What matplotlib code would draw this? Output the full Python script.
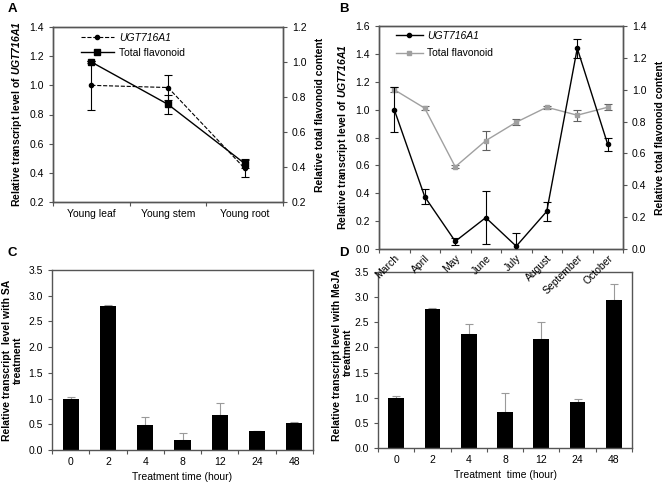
import numpy as np
import matplotlib
matplotlib.use("Agg")
import matplotlib.pyplot as plt
from matplotlib.lines import Line2D

plt.rcParams['font.family'] = ['Liberation Sans', 'DejaVu Sans']
plt.rcParams['font.size'] = 7.5
plt.rcParams['mathtext.fontset'] = 'custom'
plt.rcParams['mathtext.rm'] = 'Liberation Sans'
plt.rcParams['mathtext.it'] = 'Liberation Sans:italic'
plt.rcParams['mathtext.bf'] = 'Liberation Sans:bold'
plt.rcParams['mathtext.bfit'] = 'Liberation Sans:italic:bold'

# ---- Panel A data ----
tissues = ["Young leaf", "Young stem", "Young root"]
ugt_tissue = [1.0, 0.985, 0.43]
ugt_tissue_err = [0.17, 0.085, 0.06]
flav_tissue = [1.0, 0.758, 0.42]
flav_tissue_err = [0.008, 0.054, 0.025]

# ---- Panel B data ----
months = ["March", "April", "May", "June", "July", "August", "September", "October"]
ugt_month = [1.0, 0.375, 0.055, 0.225, 0.02, 0.27, 1.44, 0.75]
ugt_month_err = [0.16, 0.055, 0.025, 0.19, 0.095, 0.07, 0.07, 0.05]
flav_month = [1.0, 0.884, 0.516, 0.68, 0.796, 0.89, 0.84, 0.89]
flav_month_err = [0.015, 0.012, 0.01, 0.06, 0.02, 0.008, 0.035, 0.018]

# ---- Panels C/D data ----
hours = ["0", "2", "4", "8", "12", "24", "48"]
sa_vals = [1.0, 2.8, 0.48, 0.2, 0.69, 0.36, 0.52]
sa_err = [0.04, 0.01, 0.16, 0.13, 0.23, 0.005, 0.03]
meja_vals = [1.0, 2.77, 2.27, 0.72, 2.17, 0.91, 2.94]
meja_err = [0.03, 0.01, 0.2, 0.37, 0.33, 0.06, 0.33]

W, H = 666, 488
fig = plt.figure(figsize=(W / 100, H / 100), dpi=100)

def box(l, t, r, b):
    return [l / W, (H - b) / H, (r - l) / W, (b - t) / H]

spine_col = "#555555"

def style(ax):
    for s in ax.spines.values():
        s.set_color(spine_col)
        s.set_linewidth(1.0)
    ax.tick_params(axis='both', which='both', direction='out', color=spine_col,
                   labelsize=7.5, length=3, width=0.8)

def cat_ticks(ax, n):
    ax.set_xlim(-0.5, n - 0.5)
    ax.set_xticks(np.arange(n))
    ax.tick_params(axis='x', which='major', length=0, pad=5)
    ax.set_xticks(np.arange(n + 1) - 0.5, minor=True)
    ax.tick_params(axis='x', which='minor', length=3)

# ---------- A ----------
axA = fig.add_axes(box(53, 27, 283, 202))
style(axA)
xa = np.arange(len(tissues))
axA.errorbar(xa, ugt_tissue, yerr=ugt_tissue_err, color='black', lw=0.8, ls='--',
             marker='o', ms=3, capsize=3, elinewidth=0.8, capthick=0.8, zorder=3)
axA.set_ylim(0.2, 1.4)
axA.set_yticks(np.arange(0.2, 1.41, 0.2))
axA.set_yticklabels([f"{v:.1f}" for v in np.arange(0.2, 1.41, 0.2)])
axA.set_ylabel("Relative transcript level of $\\bfit{UGT716A1}$", fontweight='bold', fontsize=7.5, labelpad=4)
cat_ticks(axA, len(tissues))
axA.set_xticklabels(tissues)
axA2 = axA.twinx()
style(axA2)
axA2.errorbar(xa, flav_tissue, yerr=flav_tissue_err, color='black', lw=1.0, ls='-',
              marker='s', ms=4.5, capsize=3, elinewidth=0.8, capthick=0.8, zorder=3)
axA2.set_ylim(0.2, 1.2)
axA2.set_yticks(np.arange(0.2, 1.21, 0.2))
axA2.set_yticklabels([f"{v:.1f}" for v in np.arange(0.2, 1.21, 0.2)])
axA2.set_ylabel("Relative total flavonoid content", fontweight='bold', fontsize=7.5, labelpad=6)
hA = [Line2D([], [], color='black', ls='--', lw=0.8, marker='o', ms=3),
      Line2D([], [], color='black', ls='-', lw=1.0, marker='s', ms=4.5)]
legA = axA2.legend(hA, ["UGT716A1", "Total flavonoid"], loc='upper left',
                   bbox_to_anchor=(0.08, 1.02), frameon=False, fontsize=7.5,
                   handlelength=3.2, handletextpad=0.5, labelspacing=0.45)
legA.get_texts()[0].set_fontstyle('italic')

# ---------- B ----------
axB = fig.add_axes(box(379, 26, 623, 249))
style(axB)
xb = np.arange(len(months))
axB.errorbar(xb, ugt_month, yerr=ugt_month_err, color='black', lw=1.0,
             marker='o', ms=3, capsize=3, elinewidth=0.8, capthick=0.8, zorder=4)
axB.set_ylim(0, 1.6)
axB.set_yticks(np.arange(0, 1.61, 0.2))
axB.set_yticklabels([f"{v:.1f}" for v in np.arange(0, 1.61, 0.2)])
axB.set_ylabel("Relative transcript level of $\\bfit{UGT716A1}$", fontweight='bold', fontsize=7.5, labelpad=4)
cat_ticks(axB, len(months))
axB.set_xticklabels(months, rotation=45, ha='right', rotation_mode='anchor')
axB.tick_params(axis='x', which='major', pad=3)
axB2 = axB.twinx()
style(axB2)
axB2.errorbar(xb, flav_month, yerr=flav_month_err, color='#a0a0a0', lw=1.0,
              marker='s', ms=3.5, capsize=3, elinewidth=0.8, capthick=0.8, zorder=3,
              ecolor='#606060')
axB2.set_ylim(0, 1.4)
axB2.set_yticks(np.arange(0, 1.41, 0.2))
axB2.set_yticklabels([f"{v:.1f}" for v in np.arange(0, 1.41, 0.2)])
axB2.set_ylabel("Relative total flavonoid content", fontweight='bold', fontsize=7.5, labelpad=6)
axB.set_zorder(axB2.get_zorder() + 1)
axB.patch.set_visible(False)
hB = [Line2D([], [], color='black', lw=1.0, marker='o', ms=3),
      Line2D([], [], color='#a0a0a0', lw=1.0, marker='s', ms=3.5)]
legB = axB.legend(hB, ["UGT716A1", "Total flavonoid"], loc='upper left',
                  bbox_to_anchor=(0.03, 1.02), frameon=False, fontsize=7.5,
                  handlelength=2.6, handletextpad=0.4, labelspacing=0.7)
legB.get_texts()[0].set_fontstyle('italic')

# ---------- C / D ----------
def bar_panel(rect, vals, errs, xlabel):
    ax = fig.add_axes(rect)
    style(ax)
    xc = np.arange(len(hours))
    ax.bar(xc, vals, width=0.43, color='black', zorder=2)
    ax.errorbar(xc, vals, yerr=[np.zeros(len(errs)), errs], fmt='none',
                ecolor='#9a9a9a', elinewidth=0.8, capsize=3, capthick=0.8, zorder=1)
    ax.set_ylim(0, 3.5)
    ax.set_yticks(np.arange(0, 3.51, 0.5))
    ax.set_yticklabels([f"{v:.1f}" for v in np.arange(0, 3.51, 0.5)])
    cat_ticks(ax, len(hours))
    ax.set_xticklabels(hours)
    ax.set_xlabel(xlabel, fontsize=7.5, labelpad=4)
    return ax

axC = bar_panel(box(52, 270, 313, 450), sa_vals, sa_err, "Treatment time (hour)")
axC.set_ylabel("Relative transcript  level with SA\ntreatment", fontweight='bold',
               fontsize=7.5, labelpad=4, linespacing=1.1)

axD = bar_panel(box(378, 272, 632, 448), meja_vals, meja_err, "Treatment  time (hour)")
fig.text(337 / W, (H - 355) / H, "Relative transcript level with MeJA",
         rotation=90, fontweight='bold', fontsize=7.5, ha='center', va='center')
fig.text(348 / W, (H - 352) / H, "treatment",
         rotation=90, fontweight='bold', fontsize=7.5, ha='center', va='center')

# panel letters
for lab, (px, py) in {"A": (8, 9), "B": (339, 9), "C": (8, 253), "D": (339, 253)}.items():
    fig.text(px / W, (H - py) / H, lab, fontweight='bold', fontsize=9.5, ha='left', va='center')

fig.savefig("out.png", dpi=100)
